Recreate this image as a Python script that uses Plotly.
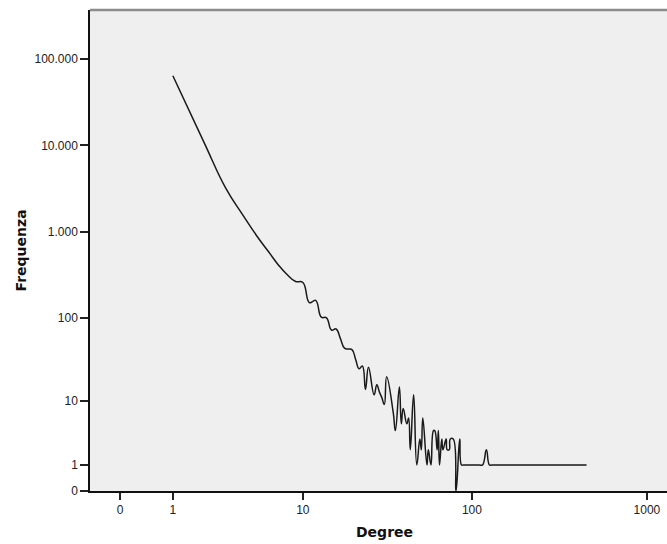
import numpy as np
import plotly.graph_objects as go

# Degree distribution (degree -> number of nodes)
degree = [1, 2, 3, 4, 5, 6, 7, 8, 9, 10, 11, 12, 13, 14, 15, 16, 17, 18, 19, 20,
          21, 22, 23, 24, 25, 27, 28, 29, 30, 31, 32, 35, 36, 38, 39, 40, 42, 43,
          44, 46, 48, 50, 51, 52, 55, 56, 58, 60, 61, 63, 64, 65, 67, 68, 71, 72,
          74, 75, 78, 81, 85, 87, 89, 91, 100, 110, 115, 121, 126, 130, 200, 300, 453]
frequency = [64000, 11000, 3200, 1570, 900, 590, 410, 315, 265, 258, 150, 160, 102, 100,
             72, 74, 57, 44, 43, 42, 32, 25, 27, 14, 26, 12, 16, 13, 11, 9, 20, 7, 4,
             15, 5, 8, 5, 6, 2, 12, 1, 3, 2, 6, 1, 2, 1, 4, 4, 2, 4, 1, 3, 2, 3, 2,
             2, 3, 3, 0, 3, 1, 1, 1, 1, 1, 1, 2, 1, 1, 1, 1, 1]

x_tick_values = [0, 1, 10, 100, 1000]
x_tick_labels = ["0", "1", "10", "100", "1000"]
y_tick_values = [0, 1, 10, 100, 1000, 10000, 100000]
y_tick_labels = ["0", "1", "10", "100", "1.000", "10.000", "100.000"]


def safe_log(v):
    return np.log10(1.0 + np.asarray(v, dtype=float))


fig = go.Figure()
fig.add_trace(go.Scatter(
    x=safe_log(degree), y=safe_log(frequency), mode="lines",
    line=dict(color="#1a1a1a", width=1.5, shape="spline", smoothing=1.3),
    hoverinfo="skip", showlegend=False,
))

tick_font = dict(family="Liberation Sans, Arial, sans-serif", size=12, color="#222222")
title_font = dict(family="DejaVu Sans, sans-serif", size=14, color="#111111")

fig.update_layout(
    width=667, height=544,
    margin=dict(l=90, r=0, t=10, b=53),
    paper_bgcolor="white",
    plot_bgcolor="#efefef",
    showlegend=False,
    xaxis=dict(
        range=[-0.1708, 3.115],
        tickmode="array", tickvals=safe_log(x_tick_values).tolist(), ticktext=x_tick_labels,
        ticks="outside", ticklen=7, tickwidth=1.5, tickcolor="#222222",
        showline=True, linecolor="#111111", linewidth=1.5,
        showgrid=False, zeroline=False, tickfont=tick_font,
    ),
    yaxis=dict(
        range=[0, 5.567],
        tickmode="array", tickvals=safe_log(y_tick_values).tolist(), ticktext=y_tick_labels,
        ticks="outside", ticklen=8, tickwidth=1.5, tickcolor="#222222",
        showline=True, linecolor="#111111", linewidth=1.5,
        showgrid=False, zeroline=False, tickfont=tick_font,
    ),
    shapes=[dict(type="line", xref="paper", yref="paper", x0=0, x1=1, y0=1, y1=1,
                 line=dict(color="#8c8c8c", width=2.5))],
    annotations=[
        dict(text="<b>Degree</b>", xref="paper", yref="paper", x=0.510, y=-0.0846,
             xanchor="center", yanchor="middle", showarrow=False, font=title_font),
        dict(text="<b>Frequenza</b>", xref="paper", yref="paper", x=-0.1213, y=0.5,
             xanchor="center", yanchor="middle", textangle=-90, showarrow=False,
             font=title_font),
    ],
)

fig.write_html("out.html")
